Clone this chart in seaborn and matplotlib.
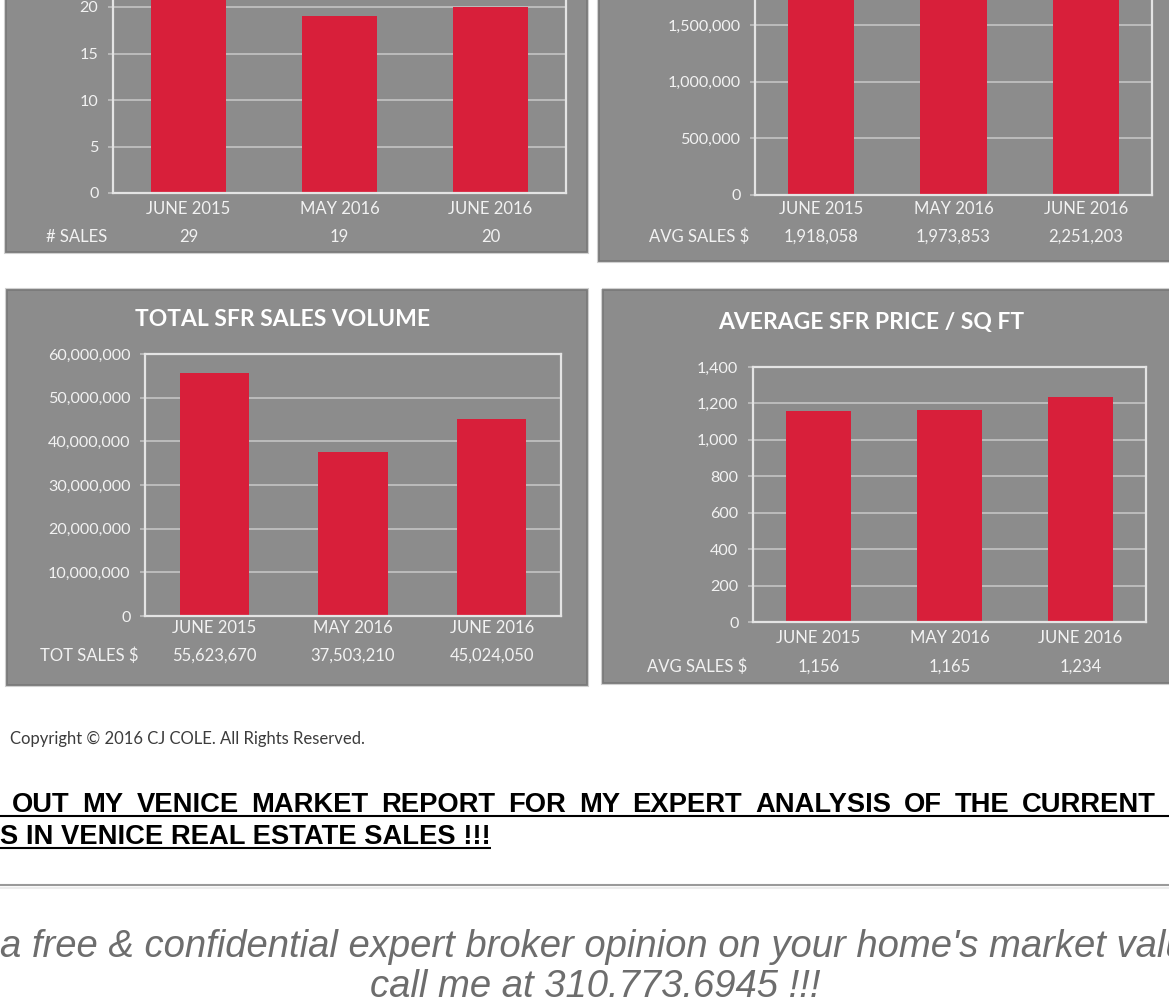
import numpy as np
import pandas as pd
import seaborn as sns
import matplotlib.pyplot as plt
from matplotlib.patches import Rectangle
from matplotlib.ticker import FuncFormatter

months = ['JUNE 2015', 'MAY 2016', 'JUNE 2016']
num_sales = [29, 19, 20]
avg_sales = [1918058, 1973853, 2251203]
tot_sales = [55623670, 37503210, 45024050]
price_sqft = [1156, 1165, 1234]

copyright_txt = 'Copyright \u00a9 2016 CJ COLE. All Rights Reserved.'
link_line1 = 'OUT MY VENICE MARKET REPORT FOR MY EXPERT ANALYSIS OF THE CURRENT'
link_line2 = 'S IN VENICE REAL ESTATE SALES !!!'
promo_line1 = "a free & confidential expert broker opinion on your home's market value"
promo_line2 = 'call me at 310.773.6945 !!!'

W, H = 1169, 1002
PANEL = '#8c8c8c'
RED = '#d81f3a'
GRID = '#c4c4c4'
TXT = '#f2f2f2'

sns.set_theme(style='white')
plt.rcParams['font.family'] = ['Lato', 'DejaVu Sans']

fig = plt.figure(figsize=(W / 100, H / 100), dpi=100)
fig.patch.set_facecolor('white')

# background axes in pixel units (y down) for panels and page text
bg = fig.add_axes([0, 0, 1, 1])
bg.set_xlim(0, W)
bg.set_ylim(H, 0)
bg.axis('off')


def panel(x0, y0, x1, y1):
    bg.add_patch(Rectangle((x0 - 1, y0 - 1), x1 - x0 + 2, y1 - y0 + 2, fc='none', ec='#d0d0d0', lw=1.5))
    bg.add_patch(Rectangle((x0, y0), x1 - x0, y1 - y0, fc=PANEL, ec='#7a7a7a', lw=1.3))


def px_axes(left, top, right, bottom):
    return fig.add_axes([left / W, 1 - bottom / H, (right - left) / W, (bottom - top) / H])


def chart(box, values, ymax, step, row_label, cat_off, row_off):
    ax = px_axes(*box)
    df = pd.DataFrame({'month': months, 'value': values})
    sns.barplot(data=df, x='month', y='value', color=RED, saturation=1, width=0.5,
                linewidth=0, ax=ax)
    ax.set_facecolor('none')
    ax.set_xlim(-0.5, 2.5)
    ax.set_ylim(0, ymax)
    ax.set_yticks(np.arange(0, ymax + 1, step))
    ax.yaxis.set_major_formatter(FuncFormatter(lambda v, _: f'{int(v):,}'))
    ax.set_axisbelow(True)
    ax.yaxis.grid(True, color=GRID, lw=1.2)
    ax.xaxis.grid(False)
    for s in ax.spines.values():
        s.set_visible(True)
        s.set_color('#e4e4e4')
        s.set_linewidth(1.6)
    ax.tick_params(axis='y', left=True, length=3.5, width=1.1, color=GRID, pad=7,
                   labelsize=11.6, labelcolor=TXT)
    ax.tick_params(axis='x', length=0, labelsize=12, labelcolor=TXT, pad=(cat_off - 8) * 0.72)
    ax.set_xlabel('')
    ax.set_ylabel('')
    ax.annotate(row_label, xy=(0, 0), xycoords='axes fraction', xytext=(-6, -row_off),
                textcoords='offset pixels', ha='right', va='center', color=TXT, fontsize=12)
    for i, v in enumerate(values):
        ax.annotate(f'{v:,}', xy=(i, 0), xycoords=('data', 'axes fraction'), xytext=(0, -row_off),
                    textcoords='offset pixels', ha='center', va='center', color=TXT, fontsize=12)
    return ax


panel(6, -10, 587, 252)
panel(599, -10, 1185, 261)
panel(7, 290, 587, 685)
panel(603, 290, 1185, 683)

chart((113, -86, 566, 193), num_sales, 30, 5, '# SALES', 16, 44)
chart((755, -88.5, 1152, 195), avg_sales, 2500000, 500000, 'AVG SALES $', 14, 42)
chart((145, 354, 561, 616), tot_sales, 60000000, 10000000, 'TOT SALES $', 12, 40)
chart((753, 367, 1146, 622), price_sqft, 1400, 200, 'AVG SALES $', 16, 45)

bg.text(283, 319, 'TOTAL SFR SALES VOLUME', ha='center', va='center',
        fontsize=16.5, weight='bold', color='white')
bg.text(871, 323, 'AVERAGE SFR PRICE / SQ FT', ha='center', va='center',
        fontsize=16.5, weight='bold', color='white')

# page text below the charts
bg.text(10, 739, copyright_txt, ha='left', va='center', fontsize=12, color='#3c3c3c')

bold_kw = dict(family=['Liberation Sans', 'DejaVu Sans'], weight='bold', fontsize=19.7,
               color='black', va='baseline', ha='left')
renderer = fig.canvas.get_renderer()
words = [bg.text(0, 812, w, **bold_kw) for w in link_line1.split()]
widths = [t.get_window_extent(renderer=renderer).width for t in words]
gap = (1156 - 12 - sum(widths)) / (len(words) - 1)
x = 12
for t, w in zip(words, widths):
    t.set_x(x)
    x += w + gap
bg.plot([0, W], [815.5, 815.5], color='black', lw=1.5, solid_capstyle='butt')

line2 = bg.text(0, 844, link_line2, **bold_kw)
w2 = line2.get_window_extent(renderer=renderer).width
bg.plot([0, w2], [847.5, 847.5], color='black', lw=1.5, solid_capstyle='butt')

bg.plot([0, W], [885, 885], color='#9a9a9a', lw=1.5, solid_capstyle='butt')
bg.plot([0, W], [888, 888], color='#ececec', lw=1.5, solid_capstyle='butt')

italic_kw = dict(family=['Liberation Sans', 'DejaVu Sans'], style='italic', fontsize=27.5,
                 color='#6d6d6d', va='baseline')
bg.text(0, 957, promo_line1, ha='left', **italic_kw)
bg.text(595, 997, promo_line2, ha='center', **italic_kw)

fig.savefig('out.png', dpi=100, facecolor='white')
